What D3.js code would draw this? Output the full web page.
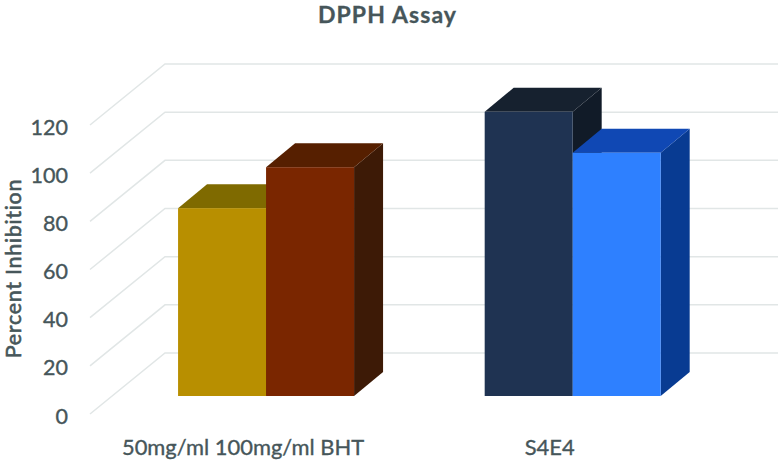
<!DOCTYPE html>
<html>
<head>
<meta charset="utf-8">
<script src="https://cdn.jsdelivr.net/npm/d3@7"></script>
<style>
  html, body { margin: 0; padding: 0; background: #fff; }
  svg { display: block; }
  text { font-family: Lato, "Open Sans", sans-serif; fill: #46565a; stroke: #46565a; stroke-width: 0.35px; }
</style>
</head>
<body>
<svg id="chart"></svg>
<script>
var categories = ["50mg/ml 100mg/ml BHT", "S4E4"];
var series = ["first", "second"];
var firstValues = [78, 118];
var secondValues = [95, 101];
var yTicks = [0, 20, 40, 60, 80, 100, 120];

var frontColors = [["#b88f00", "#7a2600"], ["#1f3352", "#2e80ff"]];
var topColors = [["#7f6a00", "#561f00"], ["#16212f", "#1048b4"]];
var sideColors = [["#7f6a00", "#3d1a06"], ["#111b28", "#083b92"]];

var screen = { width: 783, height: 461 };

// offset of the back wall from the axis plane, and of the bars from it
var wall = { dx: 75, dy: 61 };
var barLift = 18;
var barDepth = { dx: 29, dy: 24 };

var svg = d3.select("#chart")
            .attr("width", screen.width)
            .attr("height", screen.height);

var yScale = d3.scaleLinear()
               .domain([0, 120])
               .range([414, 125]);

var xScale = d3.scaleBand()
               .domain(categories)
               .range([112.75, 726])
               .paddingInner(0.426)
               .paddingOuter(0.213);

var seriesScale = d3.scaleBand()
                    .domain(series)
                    .range([0, xScale.bandwidth()]);

// gridlines: side wall then back wall
var grid = svg.append("g")
              .attr("fill", "none")
              .attr("stroke", "#e1e6e6")
              .attr("stroke-width", 1.5);

grid.selectAll("path")
    .data(yTicks)
    .enter()
    .append("path")
    .attr("d", function(d)
    {
      var p = d3.path();
      p.moveTo(90, yScale(d));
      p.lineTo(90 + wall.dx, yScale(d) - wall.dy);
      p.lineTo(778, yScale(d) - wall.dy);
      return p.toString();
    });

// y axis
var yAxis = svg.append("g")
               .attr("transform", "translate(71,0)")
               .call(d3.axisLeft(yScale).tickValues(yTicks).tickSize(0).tickPadding(3));
yAxis.select(".domain").remove();
yAxis.selectAll("text")
     .attr("dy", "0.42em")
     .style("font-family", "Lato")
     .style("font-size", "21.5px");

// bars, drawn left to right so each front hides the side of the one before
var bars = [];
categories.forEach(function(c, i)
{
  bars.push({ cat: i, ser: 0, name: c, value: firstValues[i] });
  bars.push({ cat: i, ser: 1, name: c, value: secondValues[i] });
});

var barGroups = svg.selectAll(".bar")
                   .data(bars)
                   .enter()
                   .append("g")
                   .classed("bar", true);

var barX = function(d) { return xScale(d.name) + seriesScale(series[d.ser]); };
var barTop = function(d) { return yScale(d.value) - barLift; };
var barBase = yScale(0) - barLift;
var barW = seriesScale.bandwidth();

barGroups.append("path")
         .attr("fill", function(d) { return sideColors[d.cat][d.ser]; })
         .attr("d", function(d)
         {
           var x = barX(d) + barW;
           return "M" + x + "," + barTop(d)
                + "L" + (x + barDepth.dx) + "," + (barTop(d) - barDepth.dy)
                + "L" + (x + barDepth.dx) + "," + (barBase - barDepth.dy)
                + "L" + x + "," + barBase + "Z";
         });

barGroups.append("path")
         .attr("fill", function(d) { return topColors[d.cat][d.ser]; })
         .attr("d", function(d)
         {
           var x = barX(d);
           return "M" + x + "," + barTop(d)
                + "L" + (x + barDepth.dx) + "," + (barTop(d) - barDepth.dy)
                + "L" + (x + barW + barDepth.dx) + "," + (barTop(d) - barDepth.dy)
                + "L" + (x + barW) + "," + barTop(d) + "Z";
         });

barGroups.append("rect")
         .attr("x", barX)
         .attr("y", barTop)
         .attr("width", barW)
         .attr("height", function(d) { return barBase - barTop(d); })
         .attr("fill", function(d) { return frontColors[d.cat][d.ser]; });

// category labels
svg.selectAll(".cat")
   .data(categories)
   .enter()
   .append("text")
   .classed("cat", true)
   .attr("x", function(d) { return xScale(d) + xScale.bandwidth() / 2 - 23; })
   .attr("y", 455)
   .attr("text-anchor", "middle")
   .style("font-size", "21.9px")
   .text(function(d) { return d; });

svg.append("text")
   .attr("x", 387.5)
   .attr("y", 23)
   .attr("text-anchor", "middle")
   .style("font-size", "23px")
   .style("font-weight", "700")
   .style("letter-spacing", "1.1px")
   .style("stroke-width", "0.3px")
   .text("DPPH Assay");

svg.append("text")
   .attr("transform", "translate(21.3,268.5) rotate(-90)")
   .attr("text-anchor", "middle")
   .style("font-size", "21.5px")
   .style("letter-spacing", "0.7px")
   .style("stroke-width", "0.6px")
   .text("Percent Inhibition");
</script>
</body>
</html>
